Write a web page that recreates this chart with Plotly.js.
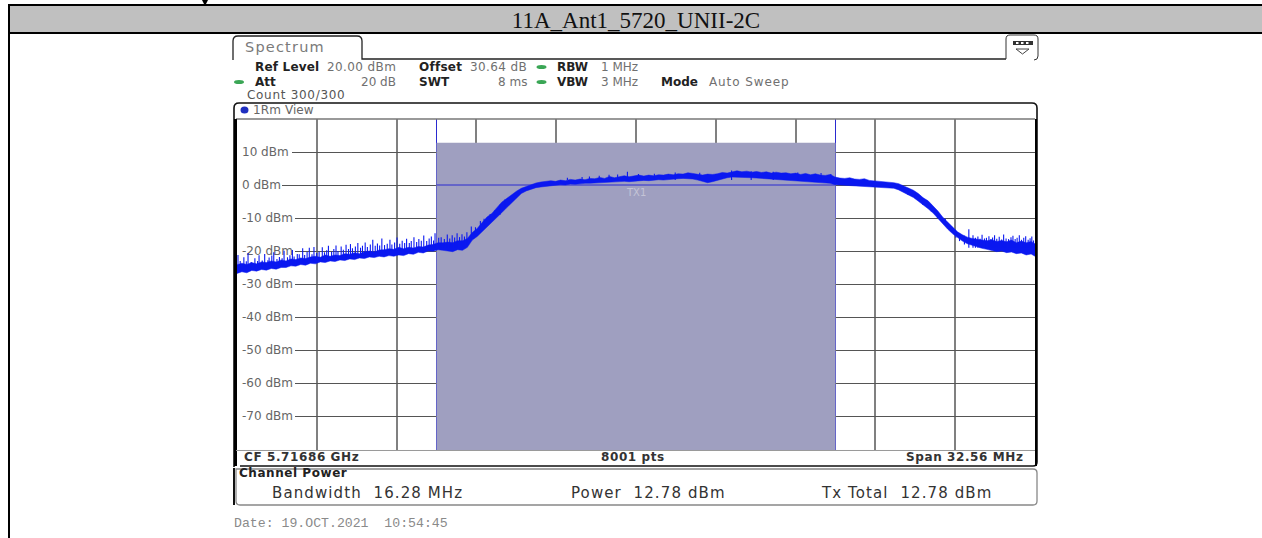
<!DOCTYPE html>
<html><head><meta charset="utf-8">
<script src="https://cdn.plot.ly/plotly-3.0.1.min.js"></script>
<style>html,body{margin:0;padding:0;background:#fff;overflow:hidden}#c{width:1262px;height:538px}</style>
</head><body><div id="c"></div>
<script>
// ---- chart data ----
const chartTitle = "11A_Ant1_5720_UNII-2C";
const offsetMHz = [
-16.28,-16.08,-15.88,-15.68,-15.48,-15.28,-15.08,-14.88,-14.68,-14.48,
-14.28,-14.08,-13.88,-13.68,-13.48,-13.28,-13.08,-12.88,-12.68,-12.48,
-12.28,-12.08,-11.88,-11.68,-11.48,-11.28,-11.08,-10.88,-10.68,-10.48,
-10.28,-10.08,-9.88,-9.68,-9.48,-9.28,-9.08,-8.88,-8.68,-8.48,
-8.28,-8.08,-7.88,-7.68,-7.48,-7.28,-7.08,-6.88,-6.68,-6.48,
-6.28,-6.08,-5.88,-5.68,-5.48,-5.28,-5.08,-4.88,-4.68,-4.48,
-4.28,-4.08,-3.88,-3.68,-3.48,-3.28,-3.08,-2.88,-2.68,-2.48,
-2.28,-2.08,-1.88,-1.68,-1.48,-1.28,-1.08,-0.88,-0.68,-0.48,
-0.28,-0.08,0.12,0.32,0.52,0.72,0.92,1.12,1.32,1.52,
1.72,1.92,2.12,2.32,2.52,2.72,2.92,3.12,3.32,3.52,
3.72,3.92,4.12,4.32,4.52,4.72,4.92,5.12,5.32,5.52,
5.72,5.92,6.12,6.32,6.52,6.72,6.92,7.12,7.32,7.52,
7.72,7.92,8.12,8.32,8.52,8.72,8.92,9.12,9.32,9.52,
9.72,9.92,10.12,10.32,10.52,10.72,10.92,11.12,11.32,11.52,
11.72,11.92,12.12,12.32,12.52,12.72,12.92,13.12,13.32,13.52,
13.72,13.92,14.12,14.32,14.52,14.72,14.92,15.12,15.32,15.52,
15.72,15.92,16.12,16.28];
const traceUpper = [
-24.2,-23.7,-24.1,-23.5,-23.9,-23.3,-23.5,-23.0,-23.3,-22.7,
-23.0,-22.4,-22.6,-22.1,-22.3,-21.8,-21.6,-21.9,-21.2,-21.6,
-21.2,-21.4,-20.8,-21.0,-20.5,-20.8,-20.2,-20.0,-20.3,-19.7,
-19.6,-19.3,-19.5,-18.9,-19.3,-18.9,-19.1,-18.6,-18.8,-18.2,
-18.0,-17.5,-17.5,-17.3,-17.5,-16.9,-16.9,-16.2,-14.4,-13.2,
-11.4,-9.7,-8.6,-6.8,-5.2,-4.1,-2.9,-1.9,-1.0,-0.4,
0.2,0.6,0.9,1.0,1.3,1.1,1.5,1.3,1.7,1.5,
1.8,1.6,2.0,1.9,2.3,2.0,2.6,2.2,2.5,2.8,
2.5,2.8,3.0,2.7,3.0,2.8,3.1,3.0,3.3,3.1,
3.4,3.3,3.7,3.5,3.3,3.0,3.3,3.2,3.4,3.8,
3.6,4.0,4.3,4.0,4.2,3.9,4.1,3.8,4.0,3.6,
3.9,3.6,3.7,3.4,3.6,3.2,3.5,3.1,3.4,3.0,
2.9,3.2,2.4,2.1,2.0,2.2,1.8,1.7,1.9,1.4,
1.3,1.2,0.9,0.8,0.7,0.4,-0.3,-0.9,-1.6,-2.6,
-3.9,-4.8,-6.2,-7.9,-9.8,-11.2,-12.8,-14.2,-15.1,-15.8,
-16.2,-16.5,-16.6,-16.9,-16.6,-17.1,-16.8,-17.2,-16.7,-17.5,
-17.0,-17.5,-17.1,-17.8];
const traceLower = [
-26.8,-26.3,-26.6,-25.9,-26.1,-25.6,-25.8,-25.3,-25.5,-25.0,
-25.0,-24.5,-24.6,-24.1,-24.3,-23.7,-23.9,-23.3,-23.5,-23.0,
-23.2,-22.7,-22.9,-22.4,-22.6,-22.1,-22.3,-21.8,-22.0,-21.6,
-21.8,-21.4,-21.6,-21.2,-21.4,-20.8,-21.0,-20.4,-20.6,-20.0,
-20.1,-19.6,-19.8,-19.9,-20.2,-19.6,-19.8,-18.9,-16.7,-15.6,
-14.2,-12.8,-11.4,-9.9,-8.4,-6.9,-5.4,-3.8,-2.6,-1.8,
-1.2,-0.8,-0.6,-0.4,-0.2,-0.1,0.1,0.0,0.3,0.2,
0.4,0.5,0.5,0.6,0.7,0.6,0.8,0.9,1.0,1.1,
1.0,1.2,1.2,1.4,1.3,1.5,1.6,1.5,1.7,1.8,
1.9,2.0,2.0,1.8,1.5,1.1,0.7,1.0,1.4,1.9,
2.2,2.4,2.4,2.3,2.3,2.2,2.1,2.0,1.9,1.8,
1.6,1.5,1.4,1.3,1.2,1.1,1.0,0.9,0.8,0.8,
0.6,0.5,0.1,0.0,-0.1,-0.1,-0.3,-0.3,-0.4,-0.4,
-0.6,-0.6,-0.7,-0.8,-1.0,-1.5,-2.3,-3.0,-3.8,-4.9,
-6.0,-7.2,-8.5,-10.2,-11.8,-13.4,-14.8,-16.0,-17.0,-17.8,
-18.3,-18.8,-19.2,-19.5,-19.8,-20.2,-20.0,-20.5,-20.3,-20.8,
-20.6,-21.2,-20.9,-21.6];
// thin noise peaks rising out of the thick trace
const peakOffsetMHz = [
-16.24,-16.15,-16.0,-15.9,-15.83,-15.7,-15.55,-15.44,-15.38,-15.25,-15.15,-15.02,-14.97,-14.86,-14.78,-14.65,-14.55,-14.44,-14.36,-14.22,
-14.12,-14.02,-13.95,-13.82,-13.74,-13.6,-13.52,-13.42,-13.33,-13.22,-13.14,-13.03,-12.93,-12.8,-12.71,-12.62,-12.55,-12.42,-12.33,-12.24,
-12.16,-12.03,-11.94,-11.83,-11.73,-11.65,-11.57,-11.45,-11.35,-11.24,-11.16,-11.05,-10.96,-10.84,-10.74,-10.64,-10.55,-10.46,-10.37,-10.26,
-10.15,-10.04,-9.96,-9.85,-9.75,-9.64,-9.54,-9.44,-9.36,-9.25,-9.17,-9.06,-8.95,-8.86,-8.76,-8.66,-8.54,-8.44,-8.35,-8.26,-8.2,-8.05,
-7.95,-7.82,-7.7,-7.6,-7.5,-7.4,-7.3,-7.2,-7.1,-7.0,-6.9,-6.72,-6.55,-6.35,-6.2,-5.95,-5.75,-5.55,-5.35,
-2.8,-2.2,-1.9,-1.5,-1.1,-0.75,-0.35,0.1,0.75,1.6,2.6,3.9,4.7,5.6,6.6,7.55,7.95,
11.1,11.4,11.7,12.05,12.3,12.62,12.85,13.05,13.2,13.4,13.58,13.75,13.85,13.95,14.04,14.12,14.22,14.3,14.4,14.48,14.55,14.63,14.72,14.82,14.92,15.0,15.1,15.2,15.3,15.38,15.47,15.55,15.64,15.73,15.82,15.9,16.0,16.08,16.15,16.22];
const peakTop = [
-21.2,-23.0,-21.9,-23.1,-20.6,-23.3,-22.2,-23.0,-21.3,-22.9,-20.9,-22.8,-22.0,-21.4,-20.4,-22.4,-21.8,-22.2,-19.9,-21.9,
-21.3,-19.7,-21.7,-20.9,-21.0,-19.2,-21.2,-20.3,-19.0,-21.0,-18.8,-20.6,-20.2,-18.9,-20.4,-19.8,-18.4,-20.2,-19.4,-18.3,
-20.0,-18.6,-19.6,-18.1,-19.4,-17.9,-19.2,-18.6,-17.6,-19.0,-18.4,-17.4,-18.8,-18.0,-16.6,-18.4,-17.7,-18.3,-16.2,-18.2,
-17.8,-16.6,-18.0,-17.4,-15.9,-17.8,-16.9,-17.6,-16.3,-17.6,-17.0,-15.8,-17.3,-16.4,-16.9,-15.3,-17.0,-16.2,-15.6,-16.8,-14.6,-16.0,
-15.8,-16.4,-15.0,-16.2,-15.2,-15.9,-14.6,-15.8,-14.9,-15.6,-14.3,-12.6,-12.8,-10.9,-10.2,-8.8,-7.6,-6.0,-4.4,
2.2,2.4,2.6,2.8,3.1,3.2,4.0,3.3,3.4,3.8,3.7,4.4,4.2,4,3.8,3.6,3.3,
-1.0,-2.6,-3.9,-6.0,-8.5,-10.2,-12.6,-14.0,-15.0,-15.4,-13.4,-15.2,-16.0,-15.6,-16.3,-15.1,-16.2,-16.0,-15.5,-16.4,-15.9,-15.2,-16.3,-15.7,-16.5,-15.0,-16.2,-16.4,-15.8,-15.4,-16.4,-16.0,-15.2,-16.6,-16.0,-15.5,-16.6,-16.1,-15.6,-16.8];
const peakBase = [
-25,-25,-25,-25,-25,-25,-25,-25,-25,-25,-24.5,-24.5,-24.5,-24.5,-24.5,-24.5,-24.5,-24.5,-24,-24,
-24,-24,-24,-24,-23.5,-23.5,-23.5,-23.5,-23,-23,-23,-23,-23,-23,-22.5,-22.5,-22.5,-22.5,-22.5,-22.5,
-22,-22,-22,-22,-22,-22,-21.5,-21.5,-21.5,-21.5,-21,-21,-21,-21,-21,-21,-20.5,-20.5,-20.5,-20.5,
-20,-20,-20,-20,-20,-20,-19.5,-19.5,-19.5,-19.5,-19.5,-19.5,-19,-19,-19,-19,-19,-19,-19,-19,-19,-19,
-19,-19,-19,-19,-19,-19,-19,-19,-19,-19,-18,-16,-15,-14,-13,-11,-10,-9,-7,
1.5,1.5,1.5,1.5,1.5,1.5,1.5,1.5,1.5,1.5,1.5,1.5,1.5,1.5,1.5,1.5,1.5,
-3,-4,-6,-8,-10,-12,-14,-16,-17,-18,-19,-19,-19,-19,-19,-19,-19,-19,-19,-19,-19,-19,-19,-19,-19,-19,-19,-19,-19,-19,-19,-19,-19,-19,-19,-19,-19,-19,-19,-19];
const levelTicks = [10,0,-10,-20,-30,-40,-50,-60,-70];
const levelLabels = ["10 dBm","0 dBm","-10 dBm","-20 dBm","-30 dBm","-40 dBm","-50 dBm","-60 dBm","-70 dBm"];
const freqGrid = [-13.024,-9.768,-6.512,-3.256,0,3.256,6.512,9.768,13.024];
const spanMHz = 32.56, channelBwMHz = 16.28, channelPowerDbm = 12.78, channelLineDbm = 0;

// ---- page geometry ----
const W=1262,H=538,L=237,R=1035,T=119,B=450;
const px=x=>(x-L)/(R-L), py=y=>1-(y-T)/(B-T);
const fx=x=>(x-L)/(R-L)*spanMHz-spanMHz/2;
const lev=y=>20-(y-T)/3.3;
const UI='"DejaVu Sans"';

const ann=[];
function t(s,x,y,size,color,bold,anchor,family,sp){
  let h=bold?'<b>'+s+'</b>':s;
  if(sp) h='<span style="letter-spacing:'+sp+'px">'+h+'</span>';
  ann.push({text:h,xref:'paper',yref:'paper',x:px(x),y:py(y),xanchor:anchor||'left',yanchor:'middle',
    showarrow:false,align:anchor||'left',borderpad:0,font:{family:family||UI,size:size,color:color}});
}
const V='#707070',K='#222';
t('Spectrum',244,47,14.5,'#7a7a7a',false,'left',UI,1.2);
t('Ref Level',254,67,12,K,true,'left',UI,.2); t('20.00 dBm',397,67,12,V,false,'right',UI,.4);
t('Offset',418,67,12,K,true,'left',UI,.25); t('30.64 dB',528,67,12,V,false,'right',UI,.4);
t('RBW',556,67,12,K,true); t('1 MHz',600,67,12,V);
t('Att',254,82,12,K,true); t('20 dB',397,82,12,V,false,'right');
t('SWT',418,82,12,K,true); t('8 ms',528,82,12,V,false,'right');
t('VBW',556,82,12,K,true); t('3 MHz',600,82,12,V);
t('Mode',660,82,12,K,true); t('Auto Sweep',708,82,12,V,false,'left',UI,.9);
t('Count 300/300',246,95,12,'#555',false,'left',UI,.7);
t('1Rm View',252,110,12,'#666',false,'left',UI,.1);
t('TX1',636,192,10,'#c4c4d6',false,'center');
t('CF 5.71686 GHz',243,457,12,'#333',true,'left',UI,.6);
t('8001 pts',633,457,12,'#333',true,'center',UI,.6);
t('Span 32.56 MHz',1025,457,12,'#333',true,'right',UI,.6);
t('Channel Power',238,473,12,'#222',true,'left',UI,.55);
t('Bandwidth&nbsp;&nbsp;16.28 MHz',271,493,15,'#333',false,'left',UI,1.1);
t('Power&nbsp;&nbsp;12.78 dBm',570,493,15,'#333',false,'left',UI,1.1);
t('Tx Total&nbsp;&nbsp;12.78 dBm',820,493,15,'#333',false,'left',UI,1.1);
t('Date: 19.OCT.2021&nbsp;&nbsp;10:54:45',233,523,13.2,'#8a8a8a',false,'left','"Liberation Mono"');

const sh=[];
function rect(x0,y0,x1,y1,fill,line,lw,layer){
  sh.push({type:'rect',xref:'paper',yref:'paper',x0:px(x0),x1:px(x1),y0:py(y0),y1:py(y1),
    fillcolor:fill||'rgba(0,0,0,0)',line:{color:line||'rgba(0,0,0,0)',width:lw||0},layer:layer||'above'});
}
function path(d,line,lw,fill){
  const s=d.replace(/(-?[\d.]+),(-?[\d.]+)/g,(m,a,b)=>px(+a).toFixed(5)+','+py(+b).toFixed(5));
  sh.push({type:'path',xref:'paper',yref:'paper',path:s,line:{color:line,width:lw},fillcolor:fill||'rgba(0,0,0,0)',layer:'above'});
}
function dot(x,y,rx,ry,c){
  sh.push({type:'circle',xref:'paper',yref:'paper',x0:px(x-rx),x1:px(x+rx),y0:py(y-ry),y1:py(y+ry),fillcolor:c,line:{width:0},layer:'above'});
}
// document table
rect(9,5,W+4,33,'#c0c0c0','#000',2,'below');
path('M 9,33 L 9,542','#000',2);
path('M 202,0 L 208,0 L 206,4 L 204,4 Z','#000',0,'#000');
// spectrum tab and frames
path('M 233,60 L 233,41 Q 233,36 238,36 L 357,36 Q 362,36 362,41 L 362,59 L 1006,59','#222',1.3);
path('M 1006,59 L 1006,39 Q 1006,35 1010,35 L 1034,35 Q 1038,35 1038,39 L 1038,56 Q 1038,60 1034,60','#333',1);
rect(1013,41,1033,45,'#333');
[1016,1021,1026].forEach(x=>rect(x,42,x+2.5,44,'#fff'));
path('M 1016,49 L 1029,49 L 1022.5,54 Z','#444',1);
path('M 234,467 L 234,108 Q 234,103 239,103 L 1032,103 Q 1037,103 1037,108 L 1037,462 Q 1037,466 1033,466 L 240,466','#111',1.6);
path('M 236,119 L 1035,119','#777',1.5);
rect(234,119,237,466,'#000');
rect(1035,119,1037,466,'#000');
path('M 236,450.5 L 1035,450.5','#999',1);
path('M 236,469 L 1033,469 Q 1037,469 1037,473 L 1037,501 Q 1037,505 1033,505 L 240,505 Q 236,505 236,501 Z','#888',1.3);
rect(233,468,235,505,'#111');
dot(239,82,5,2,'#3aa655'); dot(541.5,67,5,2,'#3aa655'); dot(541.5,82,5,2,'#3aa655');
dot(244.5,110,4,3.5,'#1f2fc0');

// chart-level shapes drawn through the axes
const gridStart={10:292,0:282};
levelTicks.forEach(v=>{
  const yc=185-v*3.3;
  sh.push({type:'rect',xref:'x',yref:'y',layer:'between',x0:-spanMHz/2,x1:fx(gridStart[v]||295),y0:lev(yc+2),y1:lev(yc-2),fillcolor:'#fff',line:{width:0}});
});
sh.push({type:'rect',xref:'x',yref:'y',layer:'between',x0:-channelBwMHz/2,x1:channelBwMHz/2,y0:-80.3,y1:channelPowerDbm,fillcolor:'#9f9fc0',line:{width:0}});
[-channelBwMHz/2,channelBwMHz/2].forEach(f=>sh.push({type:'line',xref:'x',yref:'paper',layer:'between',x0:f,x1:f,y0:0,y1:1,line:{color:'#2a2ad0',width:1}}));
sh.push({type:'line',xref:'x',yref:'y',layer:'between',x0:-channelBwMHz/2,x1:channelBwMHz/2,y0:channelLineDbm,y1:channelLineDbm,line:{color:'#2a2ad0',width:1}});

const peakX=[],peakY=[];
peakOffsetMHz.forEach((f,i)=>{peakX.push(f,f,null);peakY.push(peakBase[i],peakTop[i],null);});
const traces=[
 {x:offsetMHz,y:traceLower,mode:'lines',line:{color:'#0a18f0',width:.5},showlegend:false,hoverinfo:'skip'},
 {x:offsetMHz,y:traceUpper,mode:'lines',line:{color:'#0a18f0',width:.5},fill:'tonexty',fillcolor:'#0a18f0',showlegend:false,hoverinfo:'skip'},
 {x:peakX,y:peakY,mode:'lines',line:{color:'#0a18f0',width:1.1},connectgaps:false,showlegend:false,hoverinfo:'skip'}
];
const layout={
  width:W,height:H,margin:{l:L,r:W-R,t:T,b:H-B,pad:0},paper_bgcolor:'#fff',plot_bgcolor:'#fff',
  title:{text:chartTitle,xref:'container',yref:'container',x:636/W,y:1-20/H,xanchor:'center',yanchor:'middle',font:{family:'"Liberation Serif"',size:23,color:'#111'}},
  xaxis:{range:[-spanMHz/2,spanMHz/2],tickvals:freqGrid,showticklabels:false,ticks:'',showgrid:true,gridcolor:'#808080',gridwidth:2,zeroline:false,showline:false,fixedrange:true},
  yaxis:{range:[-80.3,20],tickvals:levelTicks,ticktext:levelLabels,ticklabelposition:'inside',ticks:'',ticklen:0,ticklabelstandoff:2,layer:'below traces',
    tickfont:{family:UI,size:12,color:'#666'},showgrid:true,gridcolor:'#555',gridwidth:1,zeroline:false,showline:false,fixedrange:true},
  shapes:sh,annotations:ann,showlegend:false,hovermode:false
};
Plotly.newPlot('c',traces,layout,{displayModeBar:false,staticPlot:true});
</script></body></html>
